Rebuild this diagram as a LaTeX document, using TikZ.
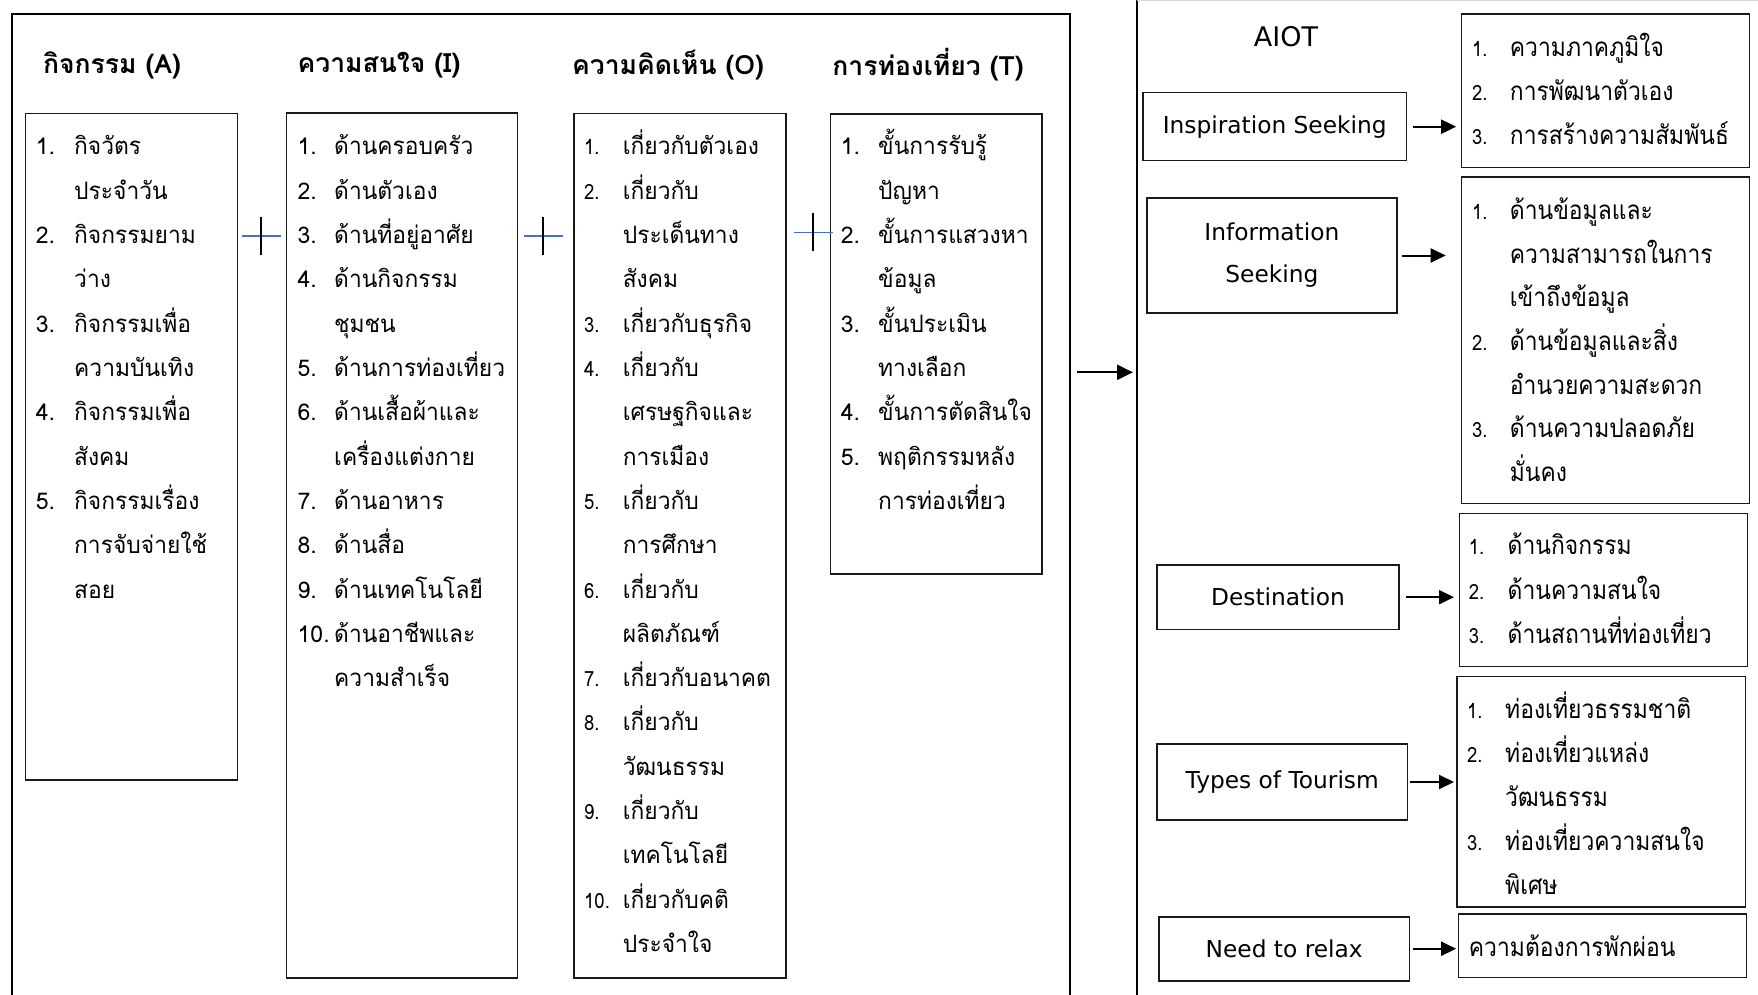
\documentclass[tikz,border=0pt]{standalone}
\usepackage{fontspec}
\setmainfont[Script=Thai]{Loma}
\newfontfamily\thbody[Script=Thai,FakeStretch=0.95]{Loma}
\newfontfamily\thnarrow[Script=Thai,FakeStretch=0.88]{Loma}
\newfontfamily\ensans{DejaVu Sans}
\usetikzlibrary{arrows.meta,calc}

\definecolor{crossblue}{RGB}{68,114,196}

\tikzset{
  frame/.style={draw=black, line width=2.4pt, inner sep=0pt, anchor=north west},
  listbox/.style={draw=black!90, line width=1.6pt, inner sep=0pt, anchor=north west},
  concept/.style={draw=black!90, line width=1.6pt, inner sep=0pt, align=center,
    font=\ensans\fontsize{23.3}{42}\selectfont},
  heading/.style={inner sep=0pt, font=\bfseries\fontsize{26.5}{26.5}\selectfont},
  numtxt/.style={inner sep=0pt, anchor=base west, font=\fontsize{23}{23}\selectfont},
  bodytxt/.style={inner sep=0pt, anchor=base west, font=\thbody\fontsize{24}{24}\selectfont},
  rnum/.style={inner sep=0pt, anchor=base west, font=\thnarrow\fontsize{21}{21}\selectfont},
  rtxt/.style={inner sep=0pt, anchor=base west, font=\thnarrow\fontsize{26}{26}\selectfont},
  bigarrow/.style={line width=2.2pt, -{Triangle[length=16pt,width=15pt]}},
  arr/.style={line width=2pt, -{Triangle[length=15pt,width=14pt]}},
  plush/.style={draw=crossblue, line width=1.6pt},
  plusv/.style={draw=black, line width=1.6pt},
}

% #1 name prefix, #2 number x, #3 text x, #4 first line centre y,
% #5 line pitch, #6 number style, #7 text style, #8 lines (number/text)
\newcommand\itemlist[8]{%
  \foreach \num/\txt [count=\k from 0] in {#8} {
    \ifx\num\empty\else
      \node[#6] (#1n\k) at (#2, #4+\k*#5+8) {\num};
    \fi
    \node[#7] (#1t\k) at (#3, #4+\k*#5+8) {\txt};
  }%
}

\begin{document}
\begin{tikzpicture}[x=1pt,y=-1pt]
\useasboundingbox (0,0) rectangle (1758,995);

% ---- left frame with the four factor columns ----
\node[frame, minimum width=1058pt, minimum height=1010pt] (leftframe) at (11,12.7) {};

\node[heading] (hA) at (112,65) {กิจกรรม (A)};
\node[heading] (hI) at (379,65) {ความสนใจ (I)};
\node[heading] (hO) at (668,65) {ความคิดเห็น (O)};
\node[heading] (hT) at (928,65) {การท่องเที่ยว (T)};

\node[listbox, minimum width=212pt, minimum height=666.3pt] (boxA) at (24.5,112.7) {};
\node[listbox, minimum width=231.1pt, minimum height=865pt] (boxI) at (285.7,112) {};
\node[listbox, minimum width=211.8pt, minimum height=864.3pt] (boxO) at (573.4,112.7) {};
\node[listbox, minimum width=211.9pt, minimum height=459.7pt] (boxT) at (829.5,113.3) {};

\itemlist{a}{35.7}{74}{147}{44.3}{numtxt}{bodytxt}{1./กิจวัตร,/ประจำวัน,2./กิจกรรมยาม,/ว่าง,3./กิจกรรมเพื่อ,/ความบันเทิง,4./กิจกรรมเพื่อ,/สังคม,5./กิจกรรมเรื่อง,/การจับจ่ายใช้,/สอย}

\itemlist{i}{297.5}{334}{147}{44.3}{numtxt}{bodytxt}{1./ด้านครอบครัว,2./ด้านตัวเอง,3./ด้านที่อยู่อาศัย,4./ด้านกิจกรรม,/ชุมชน,5./ด้านการท่องเที่ยว,6./ด้านเสื้อผ้าและ,/เครื่องแต่งกาย,7./ด้านอาหาร,8./ด้านสื่อ,9./ด้านเทคโนโลยี,10./ด้านอาชีพและ,/ความสำเร็จ}

\itemlist{o}{584}{622.6}{147}{44.3}{rnum}{bodytxt}{1./เกี่ยวกับตัวเอง,2./เกี่ยวกับ,/ประเด็นทาง,/สังคม,3./เกี่ยวกับธุรกิจ,4./เกี่ยวกับ,/เศรษฐกิจและ,/การเมือง,5./เกี่ยวกับ,/การศึกษา,6./เกี่ยวกับ,/ผลิตภัณฑ์,7./เกี่ยวกับอนาคต,8./เกี่ยวกับ,/วัฒนธรรม,9./เกี่ยวกับ,/เทคโนโลยี,10./เกี่ยวกับคติ,/ประจำใจ}

\itemlist{t}{840.6}{878}{147}{44.3}{numtxt}{bodytxt}{1./ขั้นการรับรู้,/ปัญหา,2./ขั้นการแสวงหา,/ข้อมูล,3./ขั้นประเมิน,/ทางเลือก,4./ขั้นการตัดสินใจ,5./พฤติกรรมหลัง,/การท่องเที่ยว}

% plus signs between the columns
\coordinate (p1) at (261,235.7);
\coordinate (p2) at (543,236);
\coordinate (p3) at (813,232.3);
\foreach \p in {p1,p2,p3} {
  \draw[plush] ($(\p)+(-19.5,0)$) -- ($(\p)+(19.5,0)$);
  \draw[plusv] ($(\p)+(0,-19)$) -- ($(\p)+(0,19)$);
}

% ---- right frame: AIOT ----
\coordinate (rframe) at (1137,372.3);
\draw[black, line width=2pt] (1137,0) -- (1137,995);
\draw[black!15, line width=1.2pt] (1137,0.6) -- (1758,0.6);

\draw[bigarrow, shorten <=6pt, shorten >=4pt] (leftframe.east |- rframe) -- (rframe);

\node[inner sep=0pt, font=\ensans\fontsize{27}{27}\selectfont] (aiot) at (1286,37) {AIOT};

\node[concept, minimum width=263.4pt, minimum height=68pt] (ins) at (1274.7,126.7) {Inspiration Seeking};
\node[concept, minimum width=250.2pt, minimum height=114.4pt] (inf) at (1271.9,255.5) {Information\\Seeking};
\node[concept, minimum width=242pt, minimum height=64.3pt] (dest) at (1278,597.2) {Destination};
\node[concept, minimum width=250.3pt, minimum height=76pt] (types) at (1282.2,782) {Types of Tourism};
\node[concept, minimum width=250.7pt, minimum height=64pt] (need) at (1284.2,948.7) {Need to relax};

\node[listbox, minimum width=288.1pt, minimum height=153.4pt] (l1) at (1460.7,13.3) {};
\node[listbox, minimum width=288.1pt, minimum height=326.7pt] (l2) at (1460.7,176) {};
\node[listbox, minimum width=288pt, minimum height=153pt] (l3) at (1458.5,512.7) {};
\node[listbox, minimum width=288.8pt, minimum height=230.3pt] (l4) at (1456,675.7) {};
\node[listbox, minimum width=288.1pt, minimum height=63.4pt] (l5) at (1457.6,913.3) {};

\itemlist{r1}{1471.8}{1509.7}{48.3}{44.2}{rnum}{rtxt}{1./ความภาคภูมิใจ,2./การพัฒนาตัวเอง,3./การสร้างความสัมพันธ์}
\itemlist{r2}{1471.8}{1509.7}{211.7}{43.6}{rnum}{rtxt}{1./ด้านข้อมูลและ,/ความสามารถในการ,/เข้าถึงข้อมูล,2./ด้านข้อมูลและสิ่ง,/อำนวยความสะดวก,3./ด้านความปลอดภัย,/มั่นคง}
\itemlist{r3}{1468.7}{1507.5}{546.7}{44.6}{rnum}{rtxt}{1./ด้านกิจกรรม,2./ด้านความสนใจ,3./ด้านสถานที่ท่องเที่ยว}
\itemlist{r4}{1467}{1505}{710}{44.2}{rnum}{rtxt}{1./ท่องเที่ยวธรรมชาติ,2./ท่องเที่ยวแหล่ง,/วัฒนธรรม,3./ท่องเที่ยวความสนใจ,/พิเศษ}
\node[rtxt] (r5t0) at (1468.7,956.3) {ความต้องการพักผ่อน};

\draw[arr, shorten <=5.5pt, shorten >=4.5pt] (ins.east) -- (ins.east -| l1.west);
\draw[arr, shorten <=4pt, shorten >=15pt] (inf.east) -- (inf.east -| l2.west);
\draw[arr, shorten <=6pt, shorten >=4.5pt] (dest.east) -- (dest.east -| l3.west);
\draw[arr, shorten <=2pt, shorten >=2pt] (types.east) -- (types.east -| l4.west);
\draw[arr, shorten <=3pt, shorten >=1.5pt] (need.east) -- (need.east -| l5.west);

\end{tikzpicture}
\end{document}
